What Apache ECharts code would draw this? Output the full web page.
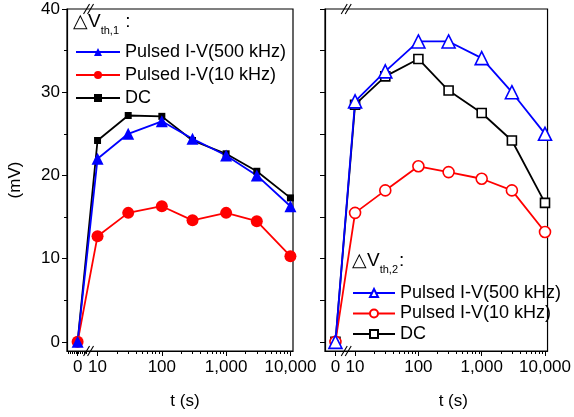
<!DOCTYPE html>
<html>
<head>
<meta charset="utf-8">
<script src="https://cdn.jsdelivr.net/npm/echarts@6/dist/echarts.min.js"></script>
<style>
    html, body { margin: 0; padding: 0; background: #fff; }
    #main { width: 574px; height: 417px; }
</style>
</head>
<body>
<div id="main"></div>
<script>
    'use strict';

    var times = [0, 10, 30, 100, 300, 1000, 3000, 10000];
    var xTickLabels = ['0', '10', '100', '1,000', '10,000'];
    var yTickValues = [0, 10, 20, 30, 40];

    // ΔVth,1
    var th1Pulsed500 = [0, 22.0, 25.0, 26.5, 24.4, 22.4, 20.0, 16.3];
    var th1Pulsed10 = [0, 12.7, 15.5, 16.3, 14.6, 15.5, 14.5, 10.3];
    var th1Dc = [0, 24.2, 27.2, 27.1, 24.2, 22.6, 20.5, 17.3];

    // ΔVth,2
    var th2Pulsed500 = [0, 28.9, 32.5, 36.1, 36.1, 34.1, 30.0, 25.0];
    var th2Pulsed10 = [0, 15.5, 18.2, 21.1, 20.4, 19.6, 18.2, 13.2];
    var th2Dc = [0, 28.5, 31.9, 34.0, 30.2, 27.5, 24.2, 16.7];

    var legendNames = {
        a500: 'Pulsed I-V(500 kHz)', a10: 'Pulsed I-V(10 kHz)', aDc: 'DC',
        b500: 'Pulsed I-V(500 kHz)', b10: 'Pulsed I-V(10 kHz)', bDc: 'DC'
    };

    // broken x axis: t = 0 sits left of the break, the rest is log10(t)
    var ZERO_POS = 0.69;
    var BREAK_POS = 0.86;
    var X_MIN = 0.525, X_MAX = 4.04;
    var Y_MIN = -1.1, Y_MAX = 40;
    var FONT = 'Liberation Sans, Arial, sans-serif';

    function xPos(t) {
        return t === 0 ? ZERO_POS : Math.log10(t);
    }

    function pairs(values) {
        return values.map(function (v, i) { return [xPos(times[i]), v]; });
    }

    var majorX = xTickLabels.map(function (s, i) { return i === 0 ? ZERO_POS : i; });
    var minorX = [];
    for (var d = 1; d <= 3; d++) {
        for (var k = 2; k <= 9; k++) minorX.push(d + Math.log10(k));
    }
    var zeroMinorX = [];
    for (var z = 0.545; z < 0.84; z += 0.031) zeroMinorX.push(z);

    function mainX(grid, namePad) {
        return {
            type: 'value', gridIndex: grid, min: X_MIN, max: X_MAX, position: 'bottom',
            axisLine: { show: true, onZero: false, lineStyle: { color: '#000', width: 1.2 } },
            axisTick: { show: true, customValues: majorX, length: 5, lineStyle: { color: '#000' } },
            splitLine: { show: false },
            axisLabel: {
                customValues: majorX, color: '#000', fontSize: 17, fontFamily: FONT, margin: 8,
                formatter: function (v) {
                    var idx = majorX.indexOf(v);
                    return idx >= 0 ? xTickLabels[idx] : '';
                }
            },
            name: 't (s)', nameLocation: 'middle', nameGap: 42,
            nameTextStyle: { color: '#000', fontSize: 17, fontFamily: FONT, padding: [0, 0, 0, namePad] }
        };
    }

    function minorXAxis(grid, ticks) {
        return {
            type: 'value', gridIndex: grid, min: X_MIN, max: X_MAX, position: 'bottom',
            axisLine: { show: false, onZero: false },
            axisTick: { show: true, inside: false, customValues: ticks, length: 3, lineStyle: { color: '#000' } },
            axisLabel: { show: false },
            splitLine: { show: false }
        };
    }

    function mainY(grid, showLabels) {
        var axis = {
            type: 'value', gridIndex: grid, min: Y_MIN, max: Y_MAX, position: 'left',
            axisLine: { show: true, onZero: false, lineStyle: { color: '#000', width: 1.2 } },
            axisTick: { show: true, customValues: yTickValues, length: 5, lineStyle: { color: '#000' } },
            splitLine: { show: false },
            axisLabel: {
                show: showLabels, customValues: yTickValues, color: '#000',
                fontSize: 17, fontFamily: FONT, margin: 7
            }
        };
        if (showLabels) {
            axis.name = '(mV)';
            axis.nameLocation = 'middle';
            axis.nameGap = 43;
            axis.nameTextStyle = { color: '#000', fontSize: 17, fontFamily: FONT };
        }
        return axis;
    }

    function minorYAxis(grid, len) {
        return {
            type: 'value', gridIndex: grid, min: Y_MIN, max: Y_MAX, position: 'left',
            axisLine: { show: false, onZero: false },
            axisTick: { show: true, inside: false, customValues: [5, 15, 25, 35], length: len, lineStyle: { color: '#000' } },
            axisLabel: { show: false },
            splitLine: { show: false }
        };
    }

    function line(name, values, xIdx, yIdx, color, symbol, size, hollow) {
        return {
            name: name, type: 'line', xAxisIndex: xIdx, yAxisIndex: yIdx,
            data: pairs(values), symbol: symbol, symbolSize: size,
            lineStyle: { color: color, width: 1.8 },
            itemStyle: hollow ?
                { color: '#fff', borderColor: color, borderWidth: 1.6 } :
                { color: color, borderColor: color, borderWidth: 0 },
            emphasis: { disabled: true }, animation: false
        };
    }

    function legendAt(left, top, gap, width, names) {
        return {
            left: left, top: top, orient: 'vertical', data: names, padding: 0,
            itemWidth: width, itemHeight: 10, itemGap: gap,
            textStyle: { color: '#000', fontSize: 18, fontFamily: FONT, lineHeight: 18 },
            formatter: function (n) { return legendNames[n]; },
            selectedMode: false
        };
    }

    var option = {
        backgroundColor: '#fff',
        grid: [
            { left: 67, right: 281, top: 9, bottom: 66, show: true, borderColor: '#000', borderWidth: 1.2 },
            { left: 325, right: 25, top: 9, bottom: 66, show: true, borderColor: '#000', borderWidth: 1.2 }
        ],
        xAxis: [mainX(0, 10), minorXAxis(0, minorX.concat(zeroMinorX)), mainX(1, 34), minorXAxis(1, minorX)],
        yAxis: [mainY(0, true), minorYAxis(0, 3), mainY(1, false), minorYAxis(1, 5)],
        legend: [
            legendAt(75, 43, 5, 44, ['a500', 'a10', 'aDc']),
            legendAt(352, 284, 2.5, 42, ['b500', 'b10', 'bDc'])
        ],
        series: [
            line('aDc', th1Dc, 0, 0, '#000', 'rect', 7, false),
            line('a10', th1Pulsed10, 0, 0, '#ff0000', 'circle', 12, false),
            line('a500', th1Pulsed500, 0, 0, '#0000ff', 'triangle', 12, false),
            line('bDc', th2Dc, 2, 2, '#000', 'rect', 9, true),
            line('b10', th2Pulsed10, 2, 2, '#ff0000', 'circle', 11, true),
            line('b500', th2Pulsed500, 2, 2, '#0000ff', 'triangle', 13, true)
        ]
    };

    var chart = echarts.init(document.getElementById('main'), null, { renderer: 'canvas' });
    chart.setOption(option);

    // axis break marks and the legend titles
    function breakMark(xIdx, yIdx, yVal) {
        var p = chart.convertToPixel({ xAxisIndex: xIdx, yAxisIndex: yIdx }, [BREAK_POS, yVal]);
        var marks = [];
        [-2, 2].forEach(function (dx) {
            marks.push({
                type: 'line', z: 100,
                shape: { x1: p[0] + dx - 3, y1: p[1] + 5, x2: p[0] + dx + 3, y2: p[1] - 5 },
                style: { stroke: '#000', lineWidth: 1.1 }
            });
        });
        return marks;
    }

    function legendTitle(left, top, sub, tail) {
        return {
            type: 'text', left: left, top: top, z: 100,
            style: {
                text: '{a|△V}{b|' + sub + '}{a|' + tail + '}',
                rich: {
                    a: { fontSize: 19, fontFamily: FONT, fill: '#000', lineHeight: 24, verticalAlign: 'bottom' },
                    b: { fontSize: 11, fontFamily: FONT, fill: '#000', lineHeight: 24, verticalAlign: 'bottom', padding: [0, 1, -5, 0] }
                }
            }
        };
    }

    var graphics = []
        .concat(breakMark(0, 0, Y_MIN), breakMark(0, 0, Y_MAX))
        .concat(breakMark(2, 2, Y_MIN), breakMark(2, 2, Y_MAX));
    graphics.push(legendTitle(73, 12, 'th,1', ' :'));
    graphics.push(legendTitle(352, 251, 'th,2', ':'));
    chart.setOption({ graphic: graphics });
</script>
</body>
</html>
